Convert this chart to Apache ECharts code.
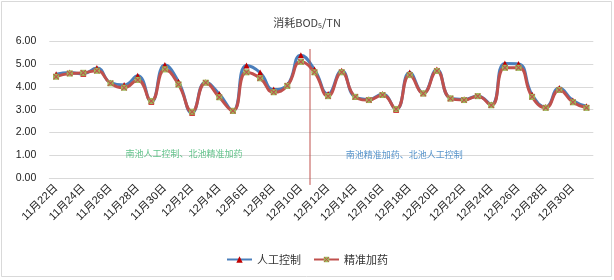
<!DOCTYPE html>
<html><head><meta charset="utf-8">
<script src="https://cdn.jsdelivr.net/npm/echarts@6/dist/echarts.min.js"></script>
<style>html,body{margin:0;padding:0;background:#fff}#c{width:614px;height:280px}</style>
</head><body><div id="c"></div>
<script>
const dates = ['11月22日','11月23日','11月24日','11月25日','11月26日','11月27日','11月28日','11月29日','11月30日',
 '12月1日','12月2日','12月3日','12月4日','12月5日','12月6日','12月7日','12月8日','12月9日','12月10日','12月11日',
 '12月12日','12月13日','12月14日','12月15日','12月16日','12月17日','12月18日','12月19日','12月20日','12月21日',
 '12月22日','12月23日','12月24日','12月25日','12月26日','12月27日','12月28日','12月29日','12月30日','12月31日'];
const manual = [4.55,4.62,4.57,4.82,4.18,4.08,4.48,3.35,4.95,4.22,
 2.86,4.20,3.68,2.95,4.93,4.62,3.88,4.08,5.38,4.75,
 3.68,4.70,3.55,3.45,3.68,3.00,4.62,3.72,4.75,3.50,
 3.45,3.60,3.22,5.02,5.00,3.65,3.12,3.95,3.40,3.15];
const precise = [4.44,4.58,4.61,4.70,4.15,3.96,4.30,3.38,4.76,4.10,
 2.91,4.18,3.54,2.95,4.63,4.37,3.76,4.04,5.09,4.63,
 3.59,4.63,3.56,3.42,3.64,3.03,4.51,3.71,4.69,3.49,
 3.42,3.59,3.19,4.83,4.83,3.56,3.08,3.86,3.32,3.08];
const seriesNames = ['人工控制','精准加药'];
const yTicks = [0,1,2,3,4,5,6];
const dividerAt = 19.17;          // between 12月10日 and 12月11日 (category units)
const dividerRange = [5.65,-0.29];
const noteX = [9.9, 26.1];
const noteY = [1.06, 1.03];
const noteText = ['南池人工控制、北池精准加药','南池精准加药、北池人工控制'];
const noteColor = ['#3cb46e','#2e7bbf'];

const svg = "<svg xmlns='http://www.w3.org/2000/svg' width='16' height='16'><rect x='1' y='1' width='14' height='14' fill='#9BBB59'/><path d='M2 2L14 14M14 2L2 14' stroke='#C0504D' stroke-width='2.4'/></svg>";
const xSym = 'image://data:image/svg+xml;charset=utf-8,' + encodeURIComponent(svg);
const FONT = '"Liberation Sans","Noto Sans CJK SC",sans-serif';
const CJK = '"Noto Sans CJK SC",sans-serif';

const chart = echarts.init(document.getElementById('c'), null, {renderer:'canvas'});
chart.setOption({
  animation:false,
  backgroundColor:'#fff',
  textStyle:{fontFamily:FONT},
  graphic:[{type:'rect',shape:{x:1.5,y:1.5,width:610,height:275},style:{fill:'none',stroke:'#d9d9d9',lineWidth:1},z:-1}],
  title:{
    text:'消耗BOD{s|5}/TN', left:'center', top:11,
    textStyle:{fontFamily:CJK,fontSize:11,fontWeight:'normal',color:'#404040',
      rich:{s:{fontSize:7,padding:[6,0,0,0],color:'#404040'}}}
  },
  legend:{
    data:seriesNames, bottom:10, left:'center', itemWidth:25, itemHeight:8, itemGap:12,
    textStyle:{fontFamily:CJK,fontSize:11,color:'#333'}
  },
  grid:{left:49.3,right:20.7,top:41,bottom:101.7},
  xAxis:[{
    type:'category', data:dates, boundaryGap:true,
    axisLine:{lineStyle:{color:'#d9d9d9',width:1}},
    axisTick:{interval:1,length:4,lineStyle:{color:'#d9d9d9'}},
    axisLabel:{interval:1,rotate:45,fontSize:11,color:'#222',margin:8,fontFamily:FONT}
  },{
    type:'value', min:0, max:dates.length, show:false
  }],
  yAxis:{
    type:'value', min:yTicks[0], max:yTicks[yTicks.length-1], interval:1,
    axisLine:{show:false}, axisTick:{show:false},
    splitLine:{lineStyle:{color:'#d9d9d9',width:1}},
    axisLabel:{formatter:v=>v.toFixed(2),fontSize:10.5,color:'#222',margin:13,fontFamily:FONT}
  },
  series:[
    {name:seriesNames[0],type:'line',data:manual,smooth:0.5,
      symbol:'triangle',symbolSize:6,showAllSymbol:true,
      lineStyle:{color:'#4a7ebb',width:3},itemStyle:{color:'#C00000'}},
    {name:seriesNames[1],type:'line',data:precise,smooth:0.5,
      symbol:xSym,symbolSize:7,showAllSymbol:true,
      lineStyle:{color:'#C0504D',width:3},itemStyle:{color:'#C0504D'}},
    {name:'divider',type:'line',xAxisIndex:1,clip:false,symbol:'none',silent:true,
      data:[[dividerAt,dividerRange[0]],[dividerAt,dividerRange[1]]],
      lineStyle:{color:'#C0504D',width:1}},
    {name:'notes',type:'scatter',xAxisIndex:1,symbolSize:2,silent:true,
      itemStyle:{color:'rgba(0,0,0,0)'},
      labelLayout:{hideOverlap:false},
      data:noteText.map((t,i)=>({value:[noteX[i],noteY[i]],
        label:{show:true,position:'inside',formatter:t,color:noteColor[i],fontSize:9,fontFamily:CJK}}))}
  ]
});
</script></body></html>
